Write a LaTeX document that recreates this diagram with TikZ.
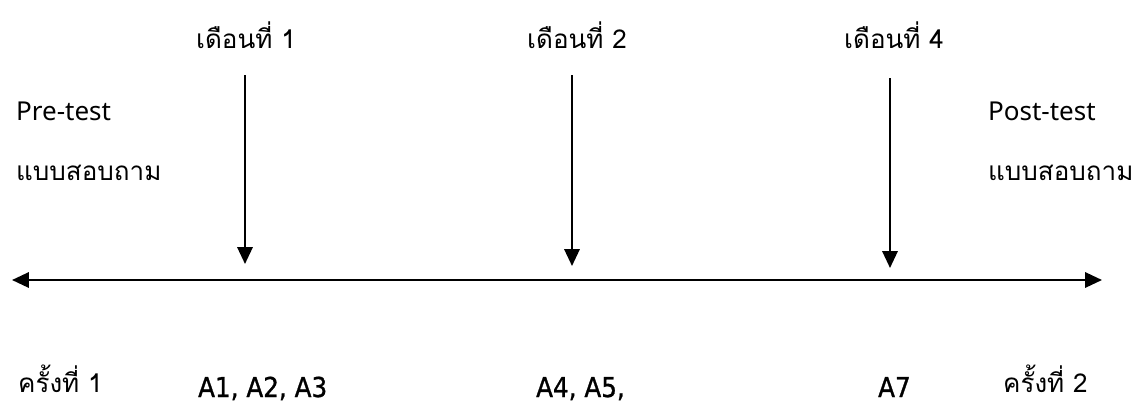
\documentclass[tikz,border=0pt]{standalone}
\usepackage{fontspec}
\setmainfont{Noto Sans}
\newfontfamily\thaifont[Script=Thai]{Loma}
\newfontfamily\codefont[FakeStretch=0.9,FakeBold=1]{DejaVu Sans}
\usetikzlibrary{arrows.meta}

\begin{document}
\begin{tikzpicture}[x=0.025cm,y=-0.025cm,
  thai/.style={font=\thaifont\fontsize{18.5}{22}\selectfont,inner sep=0pt},
  latin/.style={font=\fontsize{18.5}{22}\selectfont,inner sep=0pt},
  code/.style={font=\codefont\fontsize{19.5}{22}\selectfont,inner sep=0pt},
  >={Triangle[length=0.42cm,width=0.38cm]}, line width=1.6pt]
\useasboundingbox (0,0) rectangle (1137,403);

% months above the time line
\node[thai,anchor=base] (m1) at (246,48) {เดือนที่ 1};
\node[thai,anchor=base] (m2) at (577,48) {เดือนที่ 2};
\node[thai,anchor=base] (m4) at (894,48) {เดือนที่ 4};

% tests at both ends
\node[latin,anchor=base west] (pre) at (15,120) {Pre-test};
\node[thai,anchor=base west] (preq) at (15,180) {แบบสอบถาม};
\node[latin,anchor=base west] (post) at (987,120) {Post-test};
\node[thai,anchor=base west] (postq) at (987,180) {แบบสอบถาม};

% time line
\coordinate (axL) at (12,280);
\coordinate (axR) at (1102,280);
\draw[<->] (axL) -- (axR);

\coordinate (t1) at (245,75);  \coordinate (b1) at (245,264);
\coordinate (t2) at (572,75);  \coordinate (b2) at (572,266);
\coordinate (t3) at (890,78);  \coordinate (b3) at (890,268);
\foreach \i in {1,2,3}{\draw[->] (t\i) -- (b\i);}

% below the line
\node[thai,anchor=base west] (c1) at (17,392) {ครั้งที่ 1};
\node[code,anchor=base west] (a1) at (197,397) {A1, A2, A3};
\node[code,anchor=base west] (a4) at (535,397) {A4, A5,};
\node[code,anchor=base west] (a7) at (877,397) {A7};
\node[thai,anchor=base west] (c2) at (1002,392) {ครั้งที่ 2};
\end{tikzpicture}
\end{document}
